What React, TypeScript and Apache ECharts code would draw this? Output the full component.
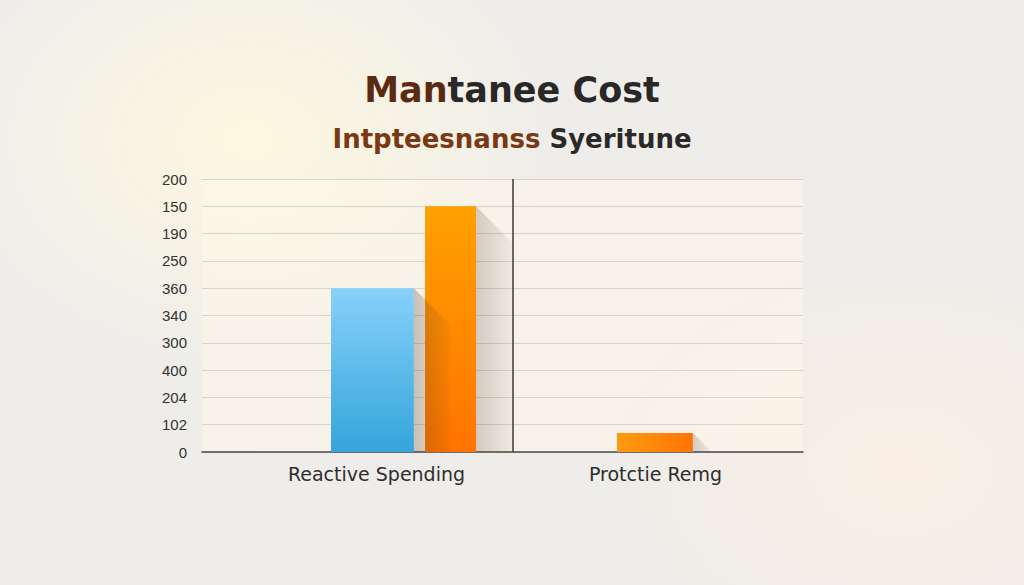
import React, { useEffect, useRef } from "react";
import * as echarts from "echarts";

// ---- data ----
const categories = ["Reactive Spending", "Protctie Remg"];
// tick labels from bottom to top (evenly spaced gridlines)
const yTickLabels = ["0", "102", "204", "400", "300", "340", "360", "250", "190", "150", "200"];
// values expressed in gridline units (index into yTickLabels)
const blueValues: (number | null)[] = [6, null];
const orangeValues: (number | null)[] = [9, 0.7];

const titleMain = ["Man", "tanee Cost"];
const titleSub = ["Intpteesnanss", " Syeritune"];

// ---- layout / style (fractions of a category band) ----
const blueSpan = [[-0.163, 0.134], null];
const orangeSpan = [[0.174, 0.357], [-0.138, 0.134]];
const SHADOW_DEPTH = 36;

function makeRender(spans: any[], fill: (i: number) => any, withDivider: boolean, shadowAlpha: number) {
  return (params: any, api: any) => {
    const cat = api.value(0);
    const val = api.value(1);
    const span = spans[cat];
    const base = api.coord([cat, 0]);
    const top = api.coord([cat, val]);
    const band = api.size([1, 0])[0];
    const x0 = base[0] + span[0] * band;
    const x1 = base[0] + span[1] * band;
    const y0 = top[1];
    const y1 = base[1];
    const h = y1 - y0;
    const d = Math.min(SHADOW_DEPTH, h);
    const children: any[] = [
      {
        type: "polygon",
        z2: 1,
        shape: {
          points: [
            [x1, y0],
            [x1 + d, y0 + d],
            [x1 + d, y1],
            [x1, y1],
          ],
        },
        style: {
          fill: new echarts.graphic.LinearGradient(0, 0, 1, 0, [
            { offset: 0, color: `rgba(70,45,25,${shadowAlpha})` },
            { offset: 1, color: "rgba(70,55,40,0.05)" },
          ]),
        },
      },
      {
        type: "rect",
        z2: 2,
        shape: { x: x0, y: y0, width: x1 - x0, height: h },
        style: { fill: fill(cat) },
      },
    ];
    if (withDivider && cat === 0) {
      const cs = params.coordSys;
      const xd = base[0] + band / 2 - 3;
      children.push({
        type: "line",
        z2: 3,
        shape: { x1: xd, y1: cs.y, x2: xd, y2: cs.y + cs.height },
        style: { stroke: "#3a3a3a", lineWidth: 1.5 },
      });
    }
    return { type: "group", children };
  };
}

const toData = (vals: (number | null)[]) =>
  vals.map((v, i) => (v == null ? null : [i, v])).filter((d) => d != null);

export default function App() {
  const ref = useRef<HTMLDivElement>(null);
  useEffect(() => {
    if (!ref.current) return;
    const chart = echarts.init(ref.current, null, { renderer: "svg" });
    const blueFill = () =>
      new echarts.graphic.LinearGradient(0, 0, 0, 1, [
        { offset: 0, color: "#88D0FA" },
        { offset: 1, color: "#34A5DB" },
      ]);
    const orangeFill = (cat: number) =>
      cat === 0
        ? new echarts.graphic.LinearGradient(0, 0, 0, 1, [
            { offset: 0, color: "#FFA000" },
            { offset: 1, color: "#FF7400" },
          ])
        : new echarts.graphic.LinearGradient(0, 0, 1, 0, [
            { offset: 0, color: "#FF9A12" },
            { offset: 1, color: "#FF7405" },
          ]);
    chart.setOption({
      animation: false,
      backgroundColor: "transparent",
      title: [
        {
          text: `{a|${titleMain[0]}}{b|${titleMain[1]}}`,
          left: "center",
          top: 64,
          textStyle: {
            rich: {
              a: { fontFamily: "DejaVu Sans", fontSize: 35, fontWeight: "bold", color: "#5A2A12", lineHeight: 42 },
              b: { fontFamily: "DejaVu Sans", fontSize: 35, fontWeight: "bold", color: "#2A2826", lineHeight: 42 },
            },
          },
        },
        {
          text: `{a|${titleSub[0]}}{b|${titleSub[1]}}`,
          left: "center",
          top: 118,
          textStyle: {
            rich: {
              a: { fontFamily: "DejaVu Sans", fontSize: 26, fontWeight: "bold", color: "#7A3813", lineHeight: 32 },
              b: { fontFamily: "DejaVu Sans", fontSize: 26, fontWeight: "bold", color: "#2B2A29", lineHeight: 32 },
            },
          },
        },
      ],
      grid: [
        {
          left: 202,
          top: 179,
          width: 601,
          height: 273,
          show: true,
          backgroundColor: "rgba(255,248,234,0.5)",
          borderWidth: 0,
        },
        { left: 237, top: 179, width: 558, height: 273 },
      ],
      xAxis: [
        {
          type: "value",
          gridIndex: 0,
          min: 0,
          max: 1,
          axisLabel: { show: false },
          axisTick: { show: false },
          splitLine: { show: false },
          axisLine: { show: true, lineStyle: { color: "#4a4a4a", width: 1.5 } },
        },
        {
          type: "category",
          gridIndex: 1,
          data: categories,
          axisLine: { show: false },
          axisTick: { show: false },
          axisLabel: { color: "#2e2e2e", fontSize: 19, fontFamily: "DejaVu Sans", margin: 12 },
        },
      ],
      yAxis: [
        {
          type: "value",
          gridIndex: 0,
          min: 0,
          max: 10,
          interval: 1,
          axisLine: { show: false },
          axisTick: { show: false },
          axisLabel: {
            color: "#333",
            fontSize: 15,
            fontFamily: "Liberation Sans",
            margin: 15,
            formatter: (v: number) => yTickLabels[Math.round(v)] ?? "",
          },
          splitLine: { lineStyle: { color: "#DAD3CA", width: 1 } },
        },
        { type: "value", gridIndex: 1, min: 0, max: 10, show: false },
      ],
      series: [
        {
          type: "custom",
          name: "Orange",
          xAxisIndex: 1,
          yAxisIndex: 1,
          z: 2,
          data: toData(orangeValues),
          renderItem: makeRender(orangeSpan, orangeFill, true, 0.2),
        },
        {
          type: "custom",
          name: "Blue",
          xAxisIndex: 1,
          yAxisIndex: 1,
          z: 3,
          data: toData(blueValues),
          renderItem: makeRender(blueSpan, blueFill, false, 0.26),
        },
      ],
    });
    return () => chart.dispose();
  }, []);
  return (
    <div
      style={{
        position: "absolute",
        left: 0,
        top: 0,
        width: 1024,
        height: 585,
        background:
          "radial-gradient(ellipse 430px 320px at 250px 140px, rgba(255,248,224,0.95), rgba(255,248,224,0) 72%)," +
          "radial-gradient(ellipse 420px 300px at 900px 470px, rgba(252,238,226,0.85), rgba(252,238,226,0) 72%)," +
          "#EEEDEA",
      }}
    >
      <div ref={ref} style={{ width: 1024, height: 585 }} />
    </div>
  );
}
